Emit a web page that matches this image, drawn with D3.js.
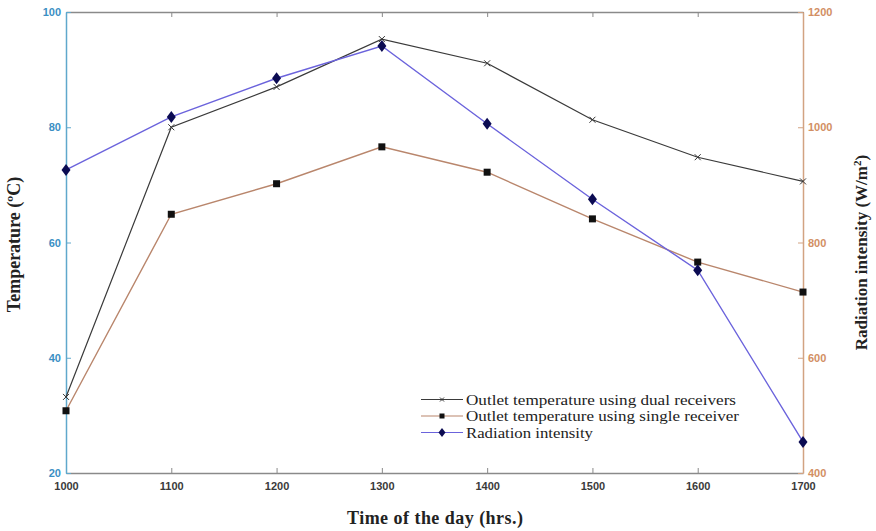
<!DOCTYPE html>
<html>
<head>
<meta charset="utf-8">
<script src="https://cdn.jsdelivr.net/npm/d3@7.9.0/dist/d3.min.js"></script>
<style>
  body { margin: 0; background: #fff; }
  svg { display: block; }
  .tick text { font-family: Arial, "Liberation Sans", sans-serif; font-weight: bold; font-size: 11px; }
  .title { font-family: "Liberation Serif", "Times New Roman", serif; font-weight: bold; font-size: 18px; fill: #222; }
  .legend text { font-family: "Liberation Serif", "Times New Roman", serif; font-size: 14.5px; fill: #222; }
</style>
</head>
<body>
<svg width="876" height="531"></svg>
<script>
// data
const hours = [1000, 1100, 1200, 1300, 1400, 1500, 1600, 1700];
const dualTemp = [33.2, 80.0, 87.0, 95.3, 91.1, 81.3, 74.8, 70.6];
const singleTemp = [30.8, 64.9, 70.2, 76.6, 72.2, 64.1, 56.6, 51.4];
const radiation = [926, 1018, 1085, 1141, 1006, 875, 752, 454];
const tempTicks = [20, 40, 60, 80, 100];
const radTicks = [400, 600, 800, 1000, 1200];
const seriesNames = ['Outlet temperature using dual receivers', 'Outlet temperature using single receiver', 'Radiation intensity'];

const svg = d3.select('svg');
const pLeft = 66, pRight = 803, pTop = 12, pBottom = 473;

let x = d3.scaleLinear().domain([1000, 1700]).range([pLeft, pRight]);
let yT = d3.scaleLinear().domain([20, 100]).range([pBottom, pTop]);
let yR = d3.scaleLinear().domain([400, 1200]).range([pBottom, pTop]);

const blueAxis = '#5fa8cc', blueText = '#3b8fc4';
const tanAxis = '#d2a382', tanText = '#d28f64';
const grayAxis = '#8a8a8a';

// top and bottom axes
let xb = svg.append('g').attr('transform', `translate(0,${pBottom})`)
  .call(d3.axisBottom(x).tickValues(hours).tickFormat(d3.format('d')).tickSizeInner(-5).tickSizeOuter(0).tickPadding(9));
xb.select('.domain').attr('stroke', grayAxis).attr('stroke-width', 1.5);
xb.selectAll('.tick line').attr('stroke', grayAxis);
xb.selectAll('.tick text').attr('fill', '#3a3a3a');

let xt = svg.append('g').attr('transform', `translate(0,${pTop})`)
  .call(d3.axisTop(x).tickValues(hours).tickFormat('').tickSizeInner(-5).tickSizeOuter(0));
xt.select('.domain').attr('stroke', grayAxis).attr('stroke-width', 1.5);
xt.selectAll('.tick line').attr('stroke', grayAxis);

// left axis
let yl = svg.append('g').attr('transform', `translate(${pLeft},0)`)
  .call(d3.axisLeft(yT).tickValues(tempTicks).tickSizeInner(-5).tickSizeOuter(0).tickPadding(5));
yl.select('.domain').attr('stroke', blueAxis).attr('stroke-width', 1.5);
yl.selectAll('.tick line').attr('stroke', blueAxis);
yl.selectAll('.tick text').attr('fill', blueText);

// right axis
let yr = svg.append('g').attr('transform', `translate(${pRight},0)`)
  .call(d3.axisRight(yR).tickValues(radTicks).tickFormat(d3.format('d')).tickSizeInner(-5).tickSizeOuter(0).tickPadding(5));
yr.select('.domain').attr('stroke', tanAxis).attr('stroke-width', 1.5);
yr.selectAll('.tick line').attr('stroke', tanAxis);
yr.selectAll('.tick text').attr('fill', tanText);

// axis titles
svg.append('text').attr('class', 'title').attr('text-anchor', 'middle')
  .attr('transform', `translate(20,${(pTop + pBottom) / 2 + 2}) rotate(-90)`)
  .text('Temperature (ºC)');
svg.append('text').attr('class', 'title').attr('text-anchor', 'middle').style('font-size', '17px')
  .attr('transform', `translate(867,${(pTop + pBottom) / 2 + 10}) rotate(-90)`)
  .html('Radiation intensity (W/m<tspan baseline-shift="super" font-size="11px">2</tspan>)');
svg.append('text').attr('class', 'title').attr('text-anchor', 'middle')
  .attr('x', 435).attr('y', 524).attr('textLength', 176).text('Time of the day (hrs.)');

const dualColor = '#3a3a3a', singleColor = '#b9866c', radColor = '#6b63dc';

function line(yScale) {
  return d3.line().x((d, i) => x(hours[i])).y((d) => yScale(d));
}

svg.append('path').datum(singleTemp).attr('d', line(yT)).attr('fill', 'none').attr('stroke', singleColor).attr('stroke-width', 1.4);
svg.append('path').datum(dualTemp).attr('d', line(yT)).attr('fill', 'none').attr('stroke', dualColor).attr('stroke-width', 1.2);
svg.append('path').datum(radiation).attr('d', line(yR)).attr('fill', 'none').attr('stroke', radColor).attr('stroke-width', 1.4);

function xMark(g, cx, cy, s) {
  g.append('path').attr('d', `M${cx - s},${cy - s}L${cx + s},${cy + s}M${cx - s},${cy + s}L${cx + s},${cy - s}`)
    .attr('stroke', '#333').attr('stroke-width', 1);
}
function sqMark(g, cx, cy, s) {
  g.append('rect').attr('x', cx - s).attr('y', cy - s).attr('width', 2 * s).attr('height', 2 * s).attr('fill', '#111');
}
function diaMark(g, cx, cy, w, h) {
  g.append('path').attr('d', `M${cx},${cy - h}L${cx + w},${cy}L${cx},${cy + h}L${cx - w},${cy}Z`).attr('fill', '#0b0b52');
}

let marks = svg.append('g');
singleTemp.forEach((d, i) => sqMark(marks, x(hours[i]), yT(d), 3.5));
dualTemp.forEach((d, i) => xMark(marks, x(hours[i]), yT(d), 3));
radiation.forEach((d, i) => diaMark(marks, x(hours[i]), yR(d), 4.5, 6));

// legend
let legend = svg.append('g').attr('class', 'legend');
const lx0 = 421, lx1 = 463, ly = [399.5, 416, 432.5];
const lWidths = [270, 273, 127];
const lColors = [dualColor, singleColor, radColor];
seriesNames.forEach((name, i) => {
  legend.append('line').attr('x1', lx0).attr('x2', lx1).attr('y1', ly[i]).attr('y2', ly[i])
    .attr('stroke', lColors[i]).attr('stroke-width', 1.2);
  const cx = (lx0 + lx1) / 2;
  if (i === 0) xMark(legend, cx, ly[i], 2);
  if (i === 1) sqMark(legend, cx, ly[i], 2.5);
  if (i === 2) diaMark(legend, cx, ly[i], 3.5, 4.5);
  legend.append('text').attr('x', 466).attr('y', ly[i] + 5)
    .attr('textLength', lWidths[i]).attr('lengthAdjust', 'spacingAndGlyphs').text(name);
});
</script>
</body>
</html>
